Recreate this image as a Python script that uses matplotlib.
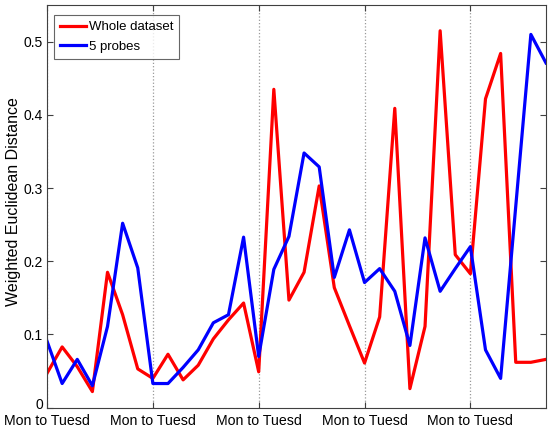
import matplotlib.pyplot as plt
import matplotlib.transforms as mtransforms
import numpy as np

plt.rcParams['font.family'] = ['Liberation Sans', 'DejaVu Sans']

whole = [0.047, 0.083, 0.056, 0.022, 0.185, 0.127, 0.053, 0.040, 0.073, 0.038,
         0.058, 0.094, 0.120, 0.143, 0.049, 0.435, 0.147, 0.185, 0.303, 0.164,
         0.112, 0.061, 0.124, 0.409, 0.026, 0.111, 0.515, 0.209, 0.183, 0.422,
         0.484, 0.062, 0.062, 0.066]
probes = [0.091, 0.033, 0.066, 0.030, 0.111, 0.252, 0.191, 0.033, 0.033, 0.055,
          0.079, 0.116, 0.127, 0.233, 0.070, 0.189, 0.234, 0.348, 0.329, 0.178,
          0.243, 0.171, 0.190, 0.159, 0.085, 0.232, 0.159, 0.190, 0.220, 0.079,
          0.040, 0.275, 0.510, 0.471]
tick_pos = [0, 7, 14, 21, 28]
tick_labels = ['Mon to Tuesd'] * 5

x = np.arange(len(whole))

fig = plt.figure(figsize=(5.5, 4.29), dpi=100)
ax = fig.add_axes([0.0855, 0.0497, 0.9072, 0.9383])

ax.plot(x, whole, color='#ff0000', linewidth=2.3, label='Whole dataset')
ax.plot(x, probes, color='#0000ff', linewidth=2.3, label='5 probes')

ax.set_xlim(0, 33)
ax.set_ylim(0, 0.55)
ax.set_xticks(tick_pos)
ax.set_xticklabels(tick_labels)
ax.set_yticks([0, 0.1, 0.2, 0.3, 0.4, 0.5])
ax.set_yticklabels(['0', '0.1', '0.2', '0.3', '0.4', '0.5'])
ax.tick_params(direction='in', top=True, right=True, labelsize=10, length=4,
               color='#404040')
ax.tick_params(axis='x', labelsize=10.2, pad=4.5)
ax.tick_params(axis='y', pad=3)
ax.xaxis.grid(True, linestyle=':', color='#999999', linewidth=0.9)
for s in ax.spines.values():
    s.set_color('#404040')

# nudge the "0" label up a little so it clears the first date label
zero_lbl = ax.get_yticklabels()[0]
zero_lbl.set_transform(zero_lbl.get_transform() +
                       mtransforms.ScaledTranslation(0, 3 / 72, fig.dpi_scale_trans))

ax.set_ylabel('Weighted Euclidean Distance', fontsize=11.5)
ax.yaxis.set_label_coords(-0.052, 0.512)

leg = ax.legend(loc='upper left', fontsize=9.5, fancybox=False, handlelength=2.0,
                handletextpad=0.2, borderpad=0.45, labelspacing=0.55,
                borderaxespad=0, bbox_to_anchor=(0.014, 0.975))
leg.get_frame().set_edgecolor('#404040')
leg.get_frame().set_linewidth(0.8)

fig.savefig('out.png', dpi=100)
